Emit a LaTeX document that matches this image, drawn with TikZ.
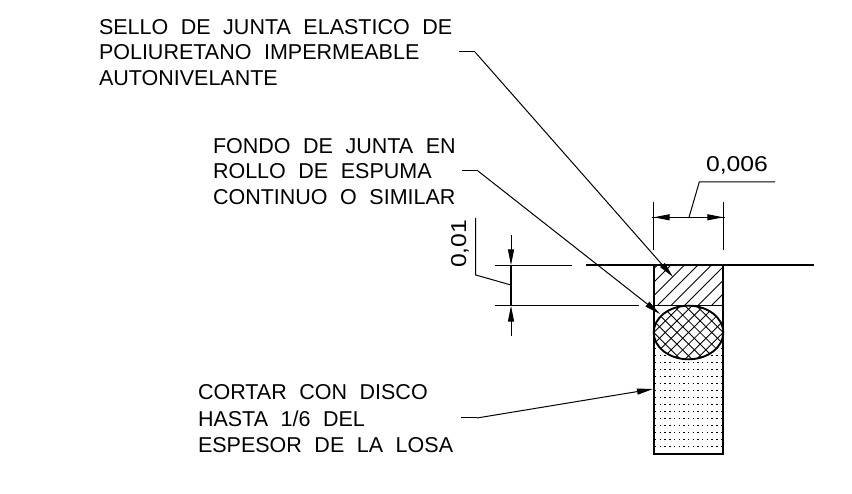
\documentclass[tikz,border=0pt]{standalone}
\usepackage{fontspec}
\usetikzlibrary{arrows.meta}
\newfontfamily\cadfont[WordSpace=2.1]{Liberation Sans}
\newfontfamily\cadnum[FakeStretch=1.15]{Liberation Sans}
\tikzset{
  thinl/.style={line width=1pt,black},
  outl/.style={line width=1.9pt,black},
  hatchl/.style={line width=0.85pt,black},
  lead/.style={line width=1pt,black,-{Triangle[length=16pt,width=6pt]}},
  lbl/.style={anchor=base west,inner sep=0pt,outer sep=0pt,font=\cadfont\fontsize{21.5}{21.5}\selectfont,black},
  numl/.style={lbl,font=\cadnum\fontsize{21.5}{21.5}\selectfont}
}
\begin{document}
\begin{tikzpicture}[x=1pt,y=-1pt]
\useasboundingbox (0,0) rectangle (852,494);
% dots
\begin{scope}
\clip (654,306) rectangle (723,454);
\foreach \r in {0,...,15}{
  \draw[line width=1.3pt,black,dash pattern=on 1.4pt off 3.3pt] (655,446.7-7*\r) -- (723,446.7-7*\r);
}
\end{scope}
% hatch
\begin{scope}
\clip (654,265) rectangle (723,306);
\foreach \k in {-3,...,5}{
  \draw[hatchl] (698+13.5*\k-70,335) -- (698+13.5*\k,265);
}
\end{scope}
\fill[white] (688.5,332.5) ellipse (34.8 and 26.8);
\begin{scope}
\clip (688.5,332.5) ellipse (34.8 and 26.8);
\foreach \k in {-6,...,6}{
  \draw[hatchl] (688.5+11.6*\k-50,382.5) -- (688.5+11.6*\k+50,282.5);
  \draw[hatchl] (688.5+11.6*\k-50,282.5) -- (688.5+11.6*\k+50,382.5);
}
\end{scope}
\draw[outl] (688.5,332.5) ellipse (34.8 and 26.8);
% outline
\draw[outl] (586,265.3) -- (814,265.3);
\draw[outl,line cap=butt] (653.7,265.3) -- (653.7,454) -- (723.3,454) -- (723.3,265.3);
\draw[outl,line width=1.4pt] (653.7,305.7) -- (723.3,305.7);
% dimension 0,006
\coordinate (wa) at (653.7,217.3);
\coordinate (wb) at (723.3,217.3);
\coordinate (wm) at (689,217.3);
\coordinate (wk) at (699.3,182);
\coordinate (we) at (775,182);
\draw[thinl] (653.7,201.7) -- (653.7,250);
\draw[thinl] (723.3,201.7) -- (723.3,250);
\draw[thinl] (652,217.3) -- (725,217.3);
\draw[lead] (wm) -- (wa);
\draw[lead] (wm) -- (wb);
\draw[thinl] (wm) -- (wk) -- (we);
\node[numl] (t006) at (706,172) {0,006};
% dimension 0,01
\coordinate (ha) at (511,265.3);
\coordinate (hb) at (511,305.7);
\draw[thinl] (495,265.3) -- (572,265.3);
\draw[thinl] (495,305.7) -- (639,305.7);
\draw[line width=1.6pt] (ha) -- (hb);
\coordinate (hu) at (511,235);
\coordinate (hd) at (511,336);
\draw[lead] (hu) -- (ha);
\draw[lead] (hd) -- (hb);
\draw[thinl] (511,285) -- (475.7,275) -- (475.7,218);
\node[numl,rotate=90] (t001) at (466,268) {0,01};
% leaders
\coordinate (l1a) at (459,52);
\coordinate (l1b) at (475,52);
\coordinate (l1c) at (673,277);
\draw[lead] (l1b) -- (l1c);
\draw[thinl] (l1a) -- (l1b);
\coordinate (l2a) at (462,171);
\coordinate (l2b) at (478,171);
\coordinate (l2c) at (660,314);
\draw[lead] (l2b) -- (l2c);
\draw[thinl] (l2a) -- (l2b);
\coordinate (l3a) at (461,418);
\coordinate (l3b) at (477,418);
\coordinate (l3c) at (653,389);
\draw[lead] (l3b) -- (l3c);
\draw[thinl] (l3a) -- (l3b);
% labels
\node[lbl] (a1) at (99,35) {SELLO DE JUNTA ELASTICO DE};
\node[lbl] (a2) at (99,60) {POLIURETANO IMPERMEABLE};
\node[lbl] (a3) at (99,86) {AUTONIVELANTE};
\node[lbl] (b1) at (213,154) {FONDO DE JUNTA EN};
\node[lbl] (b2) at (213,179) {ROLLO DE ESPUMA};
\node[lbl] (b3) at (213,205) {CONTINUO O SIMILAR};
\node[lbl] (c1) at (198,400) {CORTAR CON DISCO};
\node[lbl] (c2) at (198,426) {HASTA 1/6 DEL};
\node[lbl] (c3) at (198,453) {ESPESOR DE LA LOSA};
\end{tikzpicture}
\end{document}
